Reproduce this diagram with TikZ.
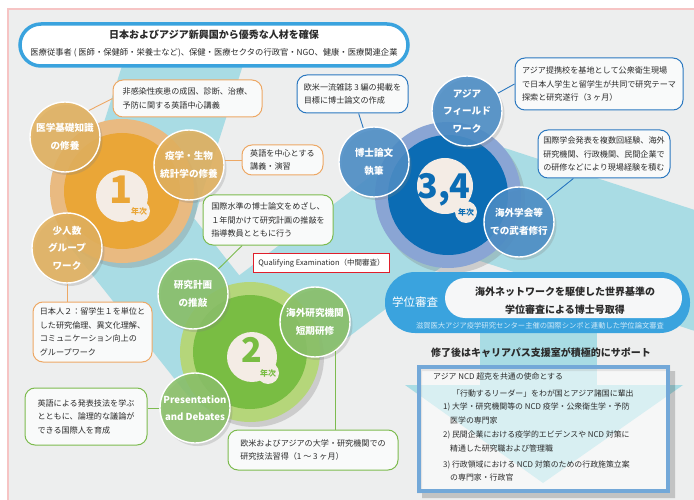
\documentclass[tikz,border=0pt]{standalone}
\usepackage{fontspec}
\setmainfont{Noto Sans CJK JP}
\usetikzlibrary{shadows}

\definecolor{bgray}{HTML}{EDEEEE}
\definecolor{frame}{HTML}{F6C4C4}
\definecolor{band}{HTML}{A9DCE4}
\definecolor{txt}{HTML}{2B2B2B}
\definecolor{oring}{HTML}{E9BA81}
\definecolor{odisc}{HTML}{EAA637}
\definecolor{osat}{HTML}{E2B05C}
\definecolor{oline}{HTML}{EDA865}
\definecolor{gring}{HTML}{B5D67A}
\definecolor{gdisc}{HTML}{79BD43}
\definecolor{gsat}{HTML}{89C067}
\definecolor{gline}{HTML}{7DBB4F}
\definecolor{bring}{HTML}{8AA5D4}
\definecolor{bdisc}{HTML}{0B6CB4}
\definecolor{bsat}{HTML}{4A8CC6}
\definecolor{bline}{HTML}{2B78C0}
\definecolor{sky}{HTML}{3AA3DE}
\definecolor{core}{HTML}{F4ECE5}
\definecolor{notefill}{HTML}{F9FAFA}
\definecolor{pillw}{HTML}{F6F7F8}
\definecolor{pilltxt}{HTML}{CFE9F8}
\definecolor{qred}{HTML}{E01F2B}
\definecolor{boxline}{HTML}{73A8D8}

\begin{document}
\begin{tikzpicture}[x=1pt,y=-1pt,every node/.style={text=txt}]
\tikzstyle{sat}=[circle, draw=white, line width=1.4pt, minimum size=70pt, inner sep=0pt, align=center, text=white, font=\bfseries\fontsize{9.6}{17.5}\selectfont, fill opacity=.87, text opacity=1, drop shadow={shadow xshift=2.5pt, shadow yshift=-3pt, opacity=.25}]
\tikzstyle{ring}=[circle, inner sep=0pt, drop shadow={shadow xshift=4pt, shadow yshift=-5pt, opacity=.3}]
\tikzstyle{disc}=[circle, inner sep=0pt]
\tikzstyle{core}=[circle, fill=core, inner sep=0pt]
\tikzstyle{num}=[inner sep=0pt, text depth=0pt, font=\bfseries\fontsize{38}{38}\selectfont]
\tikzstyle{nenji}=[inner sep=0pt, font=\bfseries\fontsize{8}{8}\selectfont]
\tikzstyle{note}=[draw, line width=1pt, rounded corners=10pt, fill=notefill, inner sep=0pt, align=left, font=\fontsize{8.1}{13.5}\selectfont]
\tikzstyle{boxtxt}=[anchor=west, inner sep=0pt, font=\fontsize{7.9}{7.9}\selectfont]

\useasboundingbox (0,0) rectangle (694,500);
\fill[white] (0,0) rectangle (694,500);
\fill[bgray] (8,9) rectangle (694,500);
\draw[frame, line width=1.2pt] (8,500) -- (8,9) -- (694,9);

% light blue path
\begin{scope}
\clip (9,10) rectangle (694,500);
\draw[band, line width=115pt, line join=miter] (190,42) -- (130,230) -- (229,355);
\draw[band, line width=115pt, line join=round, line cap=round] (229,355) -- (448,190) -- (730,282);
\draw[band, line width=117pt] (538,300) -- (538,386);
\fill[band] (405,385) -- (683,385) -- (543,483) -- cycle;
\end{scope}

% top banner
\node[draw=sky, line width=3.5pt, fill=white, rounded corners=21pt, minimum width=388pt, minimum height=42pt] (T) at (214,45) {};
\node[font=\bfseries\fontsize{10}{10}\selectfont] (T1) at (214,35) {日本およびアジア新興国から優秀な人材を確保};
\node[font=\fontsize{8.3}{8.3}\selectfont] (T2) at (214,53) {医療従事者 ( 医師・保健師・栄養士など)、保健・医療セクタの行政官・NGO、健康・医療関連企業};

% 1st year
\node[ring, fill=oring, minimum size=144pt] (R1) at (122,191) {};
\node[disc, fill=odisc, minimum size=116pt] (D1) at (122,191) {};
\node[core, minimum size=52pt] (C1) at (122,196) {};
\node[core, minimum size=22pt] (Y1) at (139,211) {};
\node[num, text=odisc] (N1) at (121,190) {1};
\node[nenji, text=odisc] (K1) at (139,211) {年次};

% 2nd year
\node[ring, fill=gring, minimum size=140pt] (R2) at (250,352) {};
\node[disc, fill=gdisc, minimum size=114pt] (D2) at (250,352) {};
\node[core, minimum size=50pt] (C2) at (252,357) {};
\node[core, minimum size=22pt] (Y2) at (268,373) {};
\node[num, text=gdisc, font=\bfseries\fontsize{34}{34}\selectfont] (N2) at (252,350) {2};
\node[nenji, text=gdisc] (K2) at (268,373) {年次};

% 3rd and 4th year
\node[ring, fill=bring, minimum size=146pt] (R3) at (448,195) {};
\node[disc, fill=bdisc, minimum size=120pt] (D3) at (448,195) {};
\node[core, minimum size=56pt] (C3) at (445,186) {};
\node[core, minimum size=22pt] (Y3) at (466,212) {};
\node[num, text=bdisc, font=\bfseries\fontsize{34}{34}\selectfont] (N3) at (444,186) {3,4};
\node[nenji, text=bdisc] (K3) at (466,212) {年次};

% small circles
\node[sat, fill=osat] (S1a) at (65,137) {医学基礎知識\\の修養};
\node[sat, fill=osat] (S1b) at (189,165) {疫学・生物\\統計学の修養};
\node[sat, fill=osat] (S1c) at (67,248) {少人数\\グループ\\ワーク};

\node[sat, fill=gsat] (S2a) at (193,294) {研究計画\\の推敲};
\node[sat, fill=gsat] (S2b) at (315,322) {海外研究機関\\短期研修};
\node[sat, fill=gsat] (S2c) at (195,408) {Presentation\\and Debates};

\node[sat, fill=bsat] (S3a) at (374,162) {博士論文\\執筆};
\node[sat, fill=bsat] (S3b) at (467,111) {アジア\\フィールド\\ワーク};
\node[sat, fill=bsat] (S3c) at (519,222) {海外学会等\\での武者修行};

% notes
\node[note, draw=oline, minimum width=149pt, minimum height=37pt] (oA) at (187.5,98.5) {非感染性疾患の成因、診断、治療、\\予防に関する英語中心講義};
\node[note, draw=oline, minimum width=81pt, minimum height=30pt] (oB) at (282.5,160) {英語を中心とする\\講義・演習};
\node[note, draw=oline, minimum width=119pt, minimum height=60pt] (oC) at (92.5,332) {日本人２：留学生１を単位と\\した研究倫理、異文化理解、\\コミュニケーション向上の\\グループワーク};

\node[note, draw=gline, minimum width=130pt, minimum height=50pt] (gA) at (268,220) {国際水準の博士論文をめざし、\\１年間かけて研究計画の推敲を\\指導教員とともに行う};
\node[note, draw=gline, minimum width=122pt, minimum height=57pt] (gB) at (86,416.5) {英語による発表技法を学ぶ\\とともに、論理的な議論が\\できる国際人を育成};
\node[note, draw=gline, minimum width=170pt, minimum height=40pt] (gC) at (313,450) {欧米およびアジアの大学・研究機関での\\研究技法習得（1 ～ 3 ヶ月）};

\node[note, draw=bline, minimum width=111pt, minimum height=38pt] (bA) at (352.5,94) {欧米一流雑誌 3 編の掲載を\\目標に博士論文の作成};
\node[note, draw=bline, minimum width=168pt, minimum height=52pt] (bB) at (599,84) {アジア提携校を基地として公衆衛生現場\\で日本人学生と留学生が共同で研究テーマ\\探索と研究遂行（3 ヶ月）};
\node[note, draw=bline, minimum width=132pt, minimum height=48pt] (bC) at (604,154) {国際学会発表を複数回経験、海外\\研究機関、行政機関、民間企業で\\の研修などにより現場経験を積む};

\path[draw=oline, line width=.9pt]
(oA.west) edge (S1a.48)
(oB.west) edge (oB.west -| S1b.east)
(S1c.south) edge (S1c.south |- oC.north);

\path[draw=gline, line width=.9pt]
(gA) edge (S2a)
(S2c.west) edge (S2c.west -| gB.east)
(S2b.-55) edge (S2b.-55 |- gC.north);

\path[draw=bline, line width=.9pt]
(bA) edge (S3a)
(S3b.30) edge (bB.west)
(bC) edge (S3c);

% qualifying examination
\node[draw=qred, line width=1.3pt, fill=white, minimum width=136pt, minimum height=19pt, inner sep=0pt, font=\fontsize{7.5}{7.5}\selectfont] (Q) at (321.5,263) {Qualifying Examination（中間審査）};

% degree examination
\node[fill=sky, rounded corners=30pt, minimum width=305pt, minimum height=61pt] (P) at (537.5,302.5) {};
\node[fill=pillw, rounded corners=20pt, minimum width=237pt, minimum height=40pt] (Pw) at (563.5,298) {};
\node[text=white, font=\fontsize{11.5}{11.5}\selectfont] (P1) at (415,302) {学位審査};
\node[align=center, font=\bfseries\fontsize{10}{18}\selectfont] (P2) at (565,301) {海外ネットワークを駆使した世界基準の\\学位審査による博士号取得};
\node[text=pilltxt, font=\fontsize{7.3}{7.3}\selectfont] (P3) at (540,326) {滋賀医大アジア疫学研究センター主催の国際シンポと連動した学位論文審査};

\node[font=\bfseries\fontsize{10}{10}\selectfont] (F) at (541,353) {修了後はキャリアパス支援室が積極的にサポート};

% career box
\fill[black, opacity=.18, even odd rule] (422,371) rectangle (675,498) (417,365) rectangle (670,493);
\node[draw=boxline, line width=4.5pt, fill=white, fill opacity=.55, minimum width=249pt, minimum height=124pt, inner sep=0pt] (B) at (543.5,429) {};
\node[boxtxt] (L1) at (433,377) {アジア NCD 超克を共通の使命とする};
\node[boxtxt] (L2) at (452,393) {「行動するリーダー」をわが国とアジア諸国に輩出};
\node[boxtxt] (L3) at (443,407) {1) 大学・研究機関等の NCD 疫学・公衆衛生学・予防};
\node[boxtxt] (L4) at (450,420) {医学の専門家};
\node[boxtxt] (L5) at (443,435) {2) 民間企業における疫学的エビデンスや NCD 対策に};
\node[boxtxt] (L6) at (450,448) {精通した研究職および管理職};
\node[boxtxt] (L7) at (443,465) {3) 行政領域における NCD 対策のための行政施策立案};
\node[boxtxt] (L8) at (450,478) {の専門家・行政官};

\end{tikzpicture}
\end{document}
